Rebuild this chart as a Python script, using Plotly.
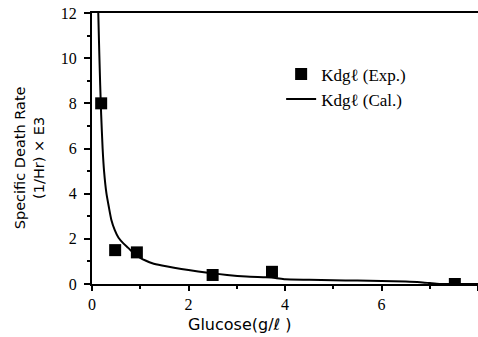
import plotly.graph_objects as go

# Experimental specific death rate vs glucose concentration
glucose_exp = [0.19, 0.48, 0.93, 2.5, 3.73, 7.52]
kdg_exp = [8.0, 1.5, 1.4, 0.4, 0.54, 0.0]

# Calculated curve
glucose_cal = [0.13, 0.15, 0.17, 0.19, 0.22, 0.25, 0.3, 0.35, 0.4, 0.47, 0.55,
               0.65, 0.75, 0.87, 1.0, 1.12, 1.25, 1.45, 1.7, 2.0, 2.4, 2.8,
               3.2, 3.6, 3.8, 4.0, 4.5, 5.0, 5.5, 6.0, 6.5, 6.8, 7.0, 7.2, 8.0]
kdg_cal = [12.0, 10.3, 8.8, 7.5, 6.0, 5.0, 4.0, 3.4, 2.85, 2.4, 2.05,
           1.8, 1.6, 1.35, 1.16, 1.03, 0.92, 0.82, 0.72, 0.62, 0.5, 0.4,
           0.33, 0.3, 0.27, 0.21, 0.19, 0.17, 0.15, 0.13, 0.11, 0.08, 0.04, 0.0, 0.0]

x_ticks = [0, 2, 4, 6, 8]
y_ticks = [0, 2, 4, 6, 8, 10, 12]

serif = "Liberation Serif"
sans = "DejaVu Sans"

fig = go.Figure()
fig.add_trace(go.Scatter(
    x=glucose_exp, y=kdg_exp, mode="markers", name="Kdg\u2113 (Exp.)",
    marker=dict(symbol="square", size=12, color="black"),
))
fig.add_trace(go.Scatter(
    x=glucose_cal, y=kdg_cal, mode="lines", name="Kdg\u2113 (Cal.)",
    line=dict(color="black", width=2, shape="spline", smoothing=0.5),
))

fig.update_layout(
    width=478, height=337,
    margin=dict(l=92, r=0, t=13, b=53),
    paper_bgcolor="white", plot_bgcolor="white",
    showlegend=True,
    legend=dict(x=0.49, y=0.84, xanchor="left", yanchor="top",
                bgcolor="rgba(0,0,0,0)", font=dict(family=serif, size=17, color="black"),
                itemwidth=30, tracegroupgap=0),
    xaxis=dict(
        range=[0, 8], tickvals=x_ticks, showgrid=False, zeroline=False,
        showline=True, linecolor="black", linewidth=2, mirror=True,
        ticks="outside", ticklen=5, tickwidth=1.5, tickcolor="black",
        minor=dict(dtick=1, ticks="outside", ticklen=3, tickcolor="black"),
        tickfont=dict(family=serif, size=16, color="black"),
    ),
    yaxis=dict(
        range=[0, 12], tickvals=y_ticks, showgrid=False, zeroline=False,
        showline=True, linecolor="black", linewidth=2,
        ticks="outside", ticklen=6, tickwidth=1.5, tickcolor="black",
        ticklabelstandoff=4,
        minor=dict(dtick=1, ticks="outside", ticklen=3, tickcolor="black"),
        tickfont=dict(family=serif, size=16, color="black"),
    ),
    annotations=[
        dict(text="Glucose(g/\u2113 )", xref="paper", yref="paper", x=0.383, y=-0.151,
             xanchor="center", yanchor="middle", showarrow=False,
             font=dict(family=sans, size=16, color="black")),
        dict(text="Specific Death Rate<br>(1/Hr) \u00d7 E3", xref="paper", yref="paper",
             x=-0.16, y=0.465, xanchor="center", yanchor="middle", textangle=-90,
             showarrow=False, font=dict(family=sans, size=14.5, color="black")),
    ],
)

fig.write_html("out.html")
